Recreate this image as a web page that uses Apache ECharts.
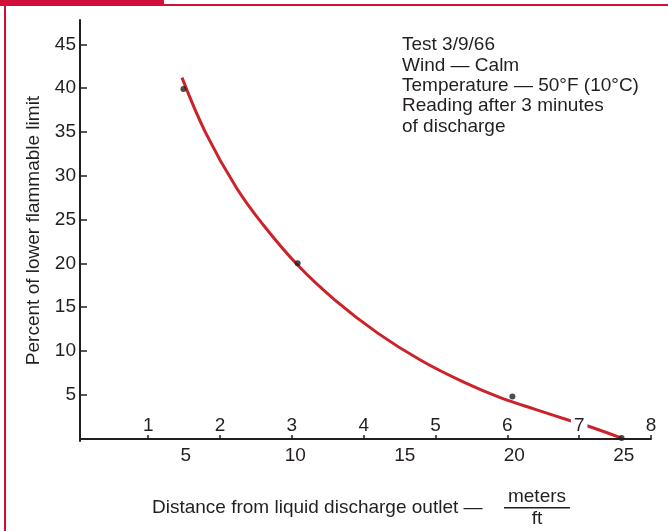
<!DOCTYPE html>
<html><head><meta charset="utf-8">
<script src="https://cdn.jsdelivr.net/npm/echarts@6/dist/echarts.min.js"></script>
<style>html,body{margin:0;padding:0;background:#fff}#c{width:668px;height:531px}</style>
</head><body><div id="c"></div>
<script>
// ---- data ----
const meterTicks = [1, 2, 3, 4, 5, 6, 7, 8];
const feetTicks = [5, 10, 15, 20, 25];
const percentTicks = [5, 10, 15, 20, 25, 30, 35, 40, 45];
// measured points (distance in meters, percent of LFL)
const pointMeters = [1.49, 3.08, 6.07, 7.59];
const pointPercent = [39.9, 20.0, 4.8, 0.05];
// fitted curve drawn on the chart
const curveMeters = [1.47, 1.8, 2.23, 2.6, 3.08, 3.6, 4.2, 4.8, 5.4, 5.92, 6.4, 6.89, 7.13, 7.59];
const curvePercent = [41.2, 34.9, 28.6, 24.4, 19.8, 15.8, 12.0, 8.9, 6.4, 4.6, 3.3, 2.0, 1.4, 0.05];
const notes = ['Test 3/9/66', 'Wind \u2014 Calm', 'Temperature \u2014 50\u00b0F (10\u00b0C)', 'Reading after 3 minutes', 'of discharge'];
const yTitle = 'Percent of lower flammable limit';
const xTitle = 'Distance from liquid discharge outlet \u2014';
const xUnitTop = 'meters';
const xUnitBottom = 'ft';
const FT_PER_M = 3.28084;

const FONT = '"Liberation Sans", Arial, Helvetica, sans-serif';
const INK = '#231f20';
const FRAME = '#d0103a';
const CURVE = '#cc2229';

const chart = echarts.init(document.getElementById('c'), null, {renderer: 'canvas'});
const xMin = 0.05, xMax = 8;
chart.setOption({
  animation: false,
  backgroundColor: '#fff',
  grid: {left: 80, right: 17, top: 20, bottom: 90, containLabel: false},
  xAxis: [
    {
      type: 'value', min: xMin, max: xMax, position: 'bottom', z: 5,
      axisLine: {show: true, lineStyle: {color: INK, width: 2}},
      axisTick: {show: true, inside: true, length: 8, lineStyle: {color: INK, width: 1.5}, customValues: meterTicks},
      axisLabel: {show: true, inside: true, margin: 6, customValues: meterTicks,
        fontSize: 19, fontFamily: FONT, color: INK, backgroundColor: '#fff', padding: [0, 3, 0, 3]},
      splitLine: {show: false}
    },
    {
      type: 'value', min: xMin * FT_PER_M, max: xMax * FT_PER_M, position: 'bottom',
      axisLine: {show: false}, axisTick: {show: false},
      axisLabel: {show: true, margin: 5, customValues: feetTicks, fontSize: 19, fontFamily: FONT, color: INK},
      splitLine: {show: false}
    }
  ],
  yAxis: {
    type: 'value', min: -0.285, max: 47.78, z: 5,
    name: yTitle, nameLocation: 'middle', nameGap: 37,
    nameTextStyle: {fontSize: 19, fontFamily: FONT, color: INK},
    axisLine: {show: true, lineStyle: {color: INK, width: 2}},
    axisTick: {show: true, inside: true, length: 7, lineStyle: {color: INK, width: 1.5}, customValues: percentTicks},
    axisLabel: {show: true, margin: 4, customValues: percentTicks, fontSize: 19, fontFamily: FONT, color: INK},
    splitLine: {show: false}
  },
  series: [
    {
      type: 'line', xAxisIndex: 0, smooth: 0.4, showSymbol: false, z: 2,
      lineStyle: {color: CURVE, width: 3},
      data: curveMeters.map((m, i) => [m, curvePercent[i]])
    },
    {
      type: 'scatter', xAxisIndex: 0, z: 8, symbolSize: 6,
      itemStyle: {color: INK},
      data: pointMeters.map((m, i) => [m, pointPercent[i]])
    }
  ],
  graphic: [
    {type: 'rect', shape: {x: 0, y: 0, width: 164, height: 5}, style: {fill: FRAME}, silent: true},
    {type: 'rect', shape: {x: 0, y: 4, width: 668, height: 2}, style: {fill: FRAME}, silent: true},
    {type: 'rect', shape: {x: 4, y: 0, width: 2, height: 531}, style: {fill: FRAME}, silent: true},
    {type: 'text', x: 402, y: 35, style: {text: notes.join('\n'), font: '19px ' + FONT, fill: INK, lineHeight: 20.3, textAlign: 'left', textVerticalAlign: 'top'}},
    {type: 'text', x: 152, y: 508, style: {text: xTitle, font: '19px ' + FONT, fill: INK, textAlign: 'left', textVerticalAlign: 'middle'}},
    {type: 'text', x: 537, y: 497, style: {text: xUnitTop, font: '19px ' + FONT, fill: INK, textAlign: 'center', textVerticalAlign: 'middle'}},
    {type: 'rect', shape: {x: 504, y: 507, width: 66, height: 1.5}, style: {fill: INK}, silent: true},
    {type: 'text', x: 537, y: 519, style: {text: xUnitBottom, font: '19px ' + FONT, fill: INK, textAlign: 'center', textVerticalAlign: 'middle'}}
  ]
});
</script>
</body></html>
